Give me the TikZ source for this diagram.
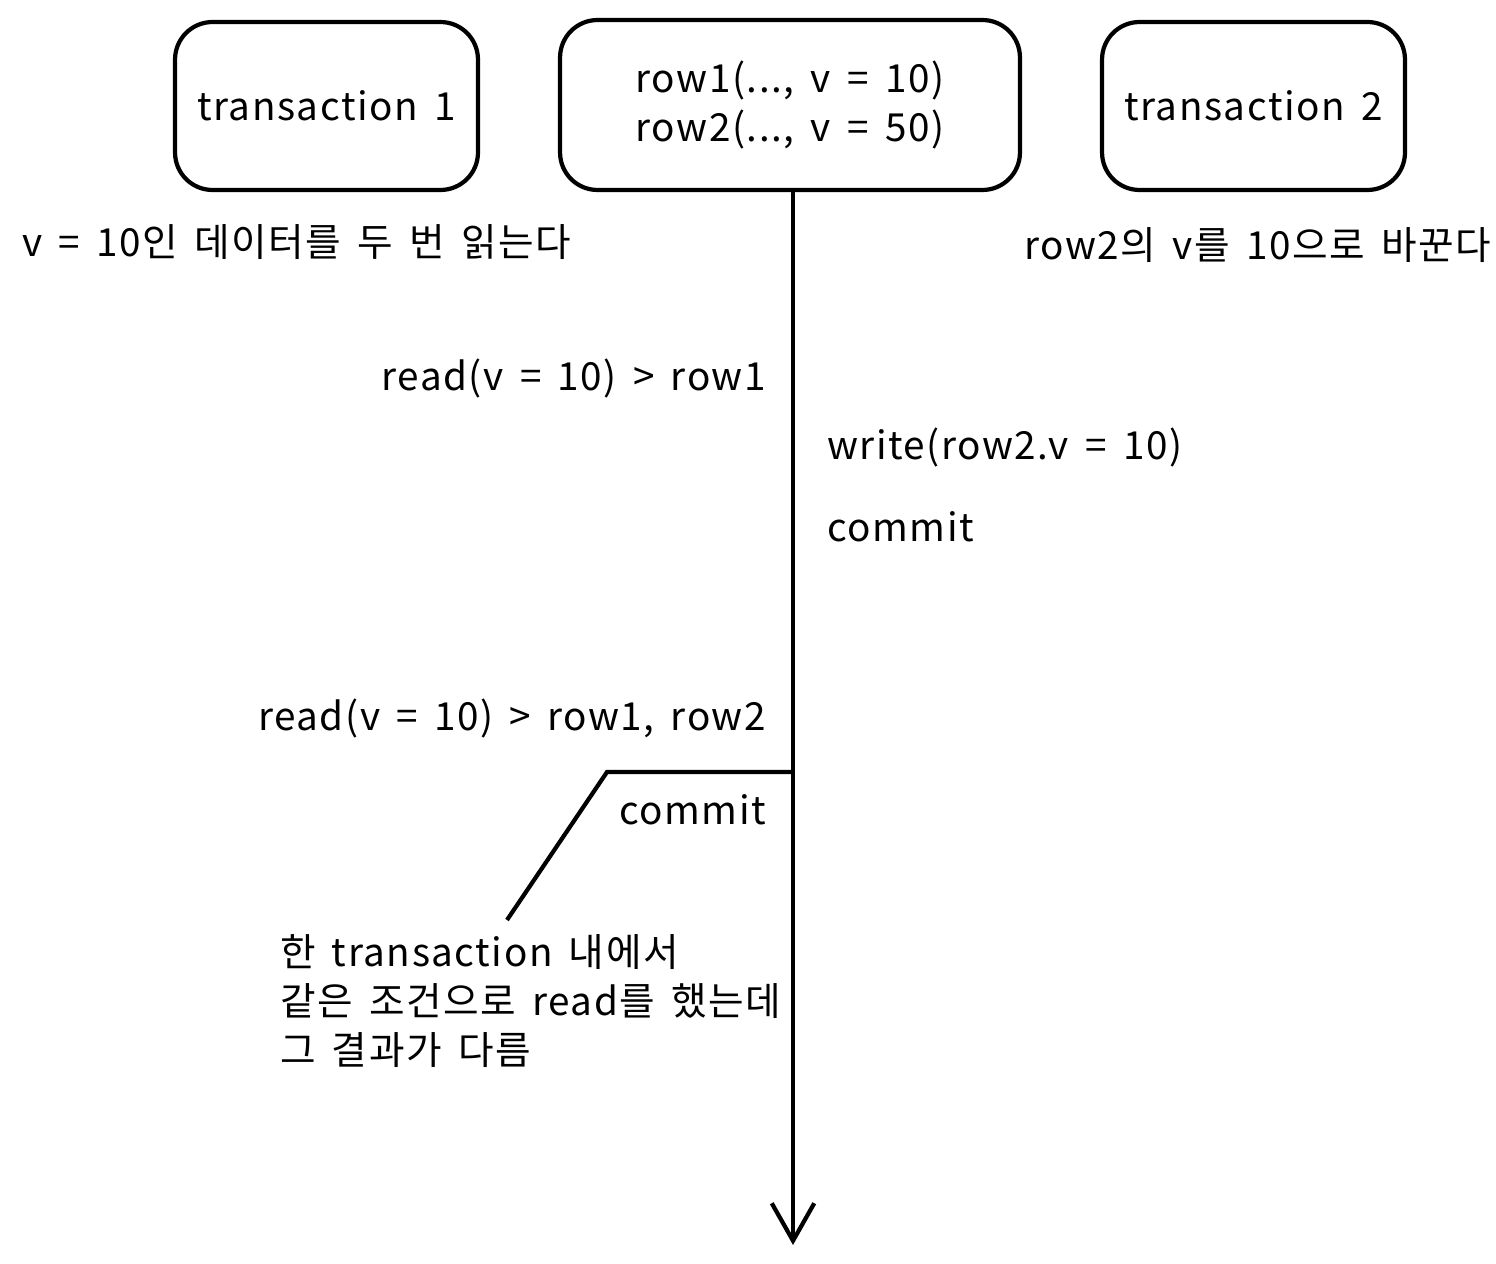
\documentclass[tikz,border=0pt]{standalone}
\usepackage{fontspec}
\setmainfont{Noto Sans CJK KR}[LetterSpace=4,WordSpace=1.6]
\usetikzlibrary{arrows.meta}

\begin{document}
\begin{tikzpicture}[x=0.02cm,y=-0.02cm,line width=2.4pt,
  every node/.style={font=\fontsize{22}{28}\selectfont,inner sep=0pt},
  txbox/.style={draw,rounded corners=0.75cm,minimum width=6.06cm,minimum height=3.36cm}]
\useasboundingbox (0,0) rectangle (1496,1263);
\node[txbox] (t1) at (326.5,106) {transaction 1};
\node[txbox,minimum width=9.2cm,minimum height=3.4cm,align=center] (data) at (790,105) {row1(..., v = 10)\\row2(..., v = 50)};
\node[txbox] (t2) at (1253.5,106) {transaction 2};
\node[anchor=west] (t1desc) at (20,242) {v = 10인 데이터를 두 번 읽는다};
\node[anchor=west] (t2desc) at (1022,245) {row2의 v를 10으로 바꾼다};
\coordinate (tend) at (793,1245);
\draw[line width=2.8pt,-{Straight Barb[length=0.75cm,width=0.85cm,line width=2.4pt]}] (data.south -| tend) -- (tend);
\node[anchor=east] (read1) at (768,378) {read(v = 10) > row1};
\node[anchor=west] (write2) at (825,447) {write(row2.v = 10)};
\node[anchor=west] (commit2) at (825,527) {commit};
\node[anchor=east] (read2) at (768,718) {read(v = 10) > row1, row2};
\node[anchor=east] (commit1) at (768,810) {commit};
\node[anchor=north west,align=left] (note) at (278,932) {한 transaction 내에서\\같은 조건으로 read를 했는데\\그 결과가 다름};
\coordinate (split) at (793,772);
\coordinate (knee) at (607,772);
\coordinate (tip) at (507,920);
\draw (split) -- (knee) -- (tip);
\end{tikzpicture}
\end{document}
